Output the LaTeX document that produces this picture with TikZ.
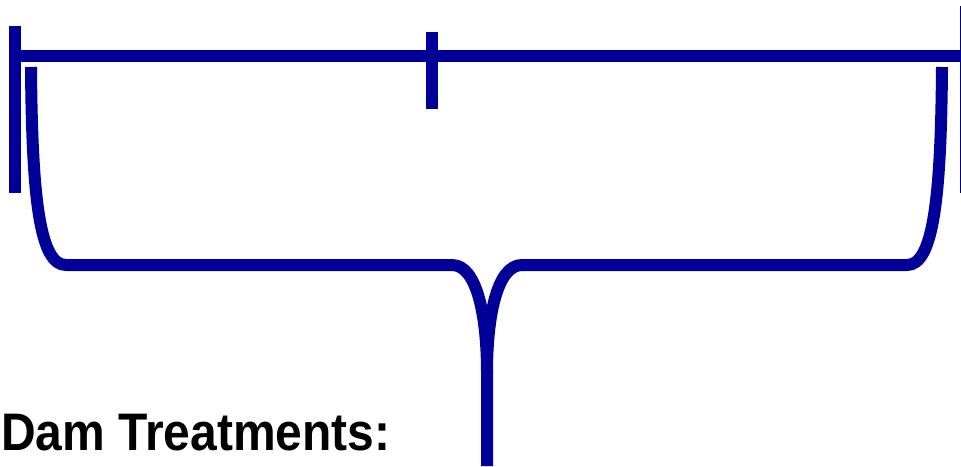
\documentclass[tikz,border=0pt]{standalone}
\usepackage{fontspec}
\setmainfont{Liberation Sans}
\usetikzlibrary{calc}
\definecolor{damblue}{RGB}{0,0,153}
\tikzset{%
  scaleline/.style = {draw=damblue, line width=12pt},
  tickmark/.style  = {draw=damblue, line width=12pt},
  brace/.style     = {draw=damblue, line width=12pt, line join=round},
  titletext/.style = {font=\bfseries\fontsize{48}{56}\selectfont, inner sep=0pt, yscale=1.1}
}
\begin{document}
\begin{tikzpicture}[x=1pt, y=-1pt]
  \useasboundingbox (0,0) rectangle (961,466);
  % time line
  \coordinate (start1) at (15,56);
  \coordinate (mid1) at (432,56);
  \coordinate (end1) at (966,56);
  \draw[scaleline] (start1) -- (end1);
  \draw[tickmark] (15,26) -- (15,193);
  \draw[tickmark] (432,32) -- (432,109);
  \draw[tickmark] (966,6) -- (966,193);
  % brace under the line
  \coordinate (braceL) at (31,67);
  \coordinate (braceR) at (942,67);
  \coordinate (tip) at (487,466);
  \draw[brace] (braceL) .. controls (32,200) and (40,265) .. (66,265)
    -- (452,265) .. controls (478,265) and (487,320) .. (487,372)
    -- (tip);
  \draw[brace] (braceR) .. controls (941,200) and (933,265) .. (907,265)
    -- (522,265) .. controls (496,265) and (487,320) .. (487,372);
  \node[titletext, anchor=base west] (title) at (1,450) {Dam Treatments:};
\end{tikzpicture}
\end{document}
